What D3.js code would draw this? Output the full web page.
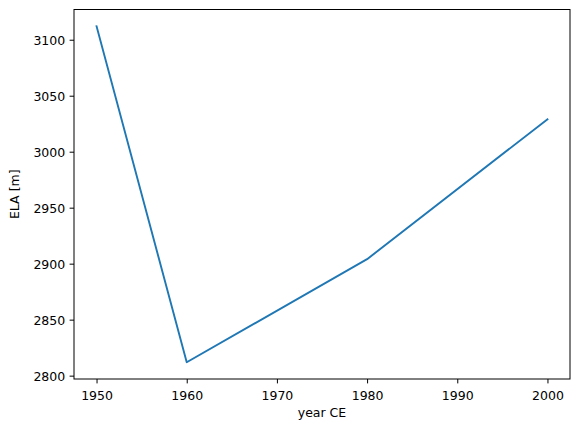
<!DOCTYPE html>
<html>
<head>
<meta charset="utf-8">
<script src="https://cdn.jsdelivr.net/npm/d3@7"></script>
<style>
  html, body { margin: 0; padding: 0; background: #fff; }
  svg { display: block; }
  text { font-family: "DejaVu Sans", sans-serif; fill: #000; }
</style>
</head>
<body>
<svg id="chart" width="580" height="432"></svg>
<script>
const years = [1950, 1960, 1980, 2000];
const ela = [3112, 2812, 2904, 3029];
const xTicks = [1950, 1960, 1970, 1980, 1990, 2000];
const yTicks = [2800, 2850, 2900, 2950, 3000, 3050, 3100];
const xLabel = "year CE";
const yLabel = "ELA [m]";

(function () {
const svg = d3.select("#chart");
const mLeft = 74, mRight = 570, mTop = 9.5, mBottom = 379;

const xMin = d3.min(years), xMax = d3.max(years);
const xPad = (xMax - xMin) * 0.05;
const yMin = d3.min(ela), yMax = d3.max(ela);
const yPad = (yMax - yMin) * 0.05;

const x = d3.scaleLinear().domain([xMin - xPad, xMax + xPad]).range([mLeft, mRight]);
const y = d3.scaleLinear().domain([yMin - yPad, yMax + yPad]).range([mBottom, mTop]);

const fs = 12.5, tick = 4.4, pad = 4.4;

const gx = svg.append("g").attr("transform", `translate(0,${mBottom})`)
  .call(d3.axisBottom(x).tickValues(xTicks).tickFormat(d3.format("d")).tickSize(tick).tickPadding(pad));
const gy = svg.append("g").attr("transform", `translate(${mLeft},0)`)
  .call(d3.axisLeft(y).tickValues(yTicks).tickFormat(d3.format("d")).tickSize(tick).tickPadding(pad));
[gx, gy].forEach(g => {
  g.select(".domain").remove();
  g.selectAll("line").attr("stroke", "#000").attr("stroke-width", 1);
  g.selectAll("text").attr("font-size", fs).attr("font-family", "DejaVu Sans").attr("fill", "#000");
});
gx.selectAll("text").attr("dy", "0.95em");
gy.selectAll("text").attr("dy", "0.36em");

const line = d3.line().x((d, i) => x(years[i])).y(d => y(d));
svg.append("path").datum(ela)
  .attr("d", line)
  .attr("fill", "none")
  .attr("stroke", "#1f77b4")
  .attr("stroke-width", 1.9)
  .attr("stroke-linejoin", "round")
  .attr("stroke-linecap", "square");

svg.append("rect")
  .attr("x", mLeft).attr("y", mTop)
  .attr("width", mRight - mLeft).attr("height", mBottom - mTop)
  .attr("fill", "none").attr("stroke", "#000").attr("stroke-width", 1);

svg.append("text")
  .attr("x", (mLeft + mRight) / 2).attr("y", 417)
  .attr("text-anchor", "middle").attr("font-size", fs)
  .text(xLabel);

svg.append("text")
  .attr("transform", `translate(19,${(mTop + mBottom) / 2}) rotate(-90)`)
  .attr("text-anchor", "middle").attr("font-size", fs)
  .text(yLabel);
})();
</script>
</body>
</html>
